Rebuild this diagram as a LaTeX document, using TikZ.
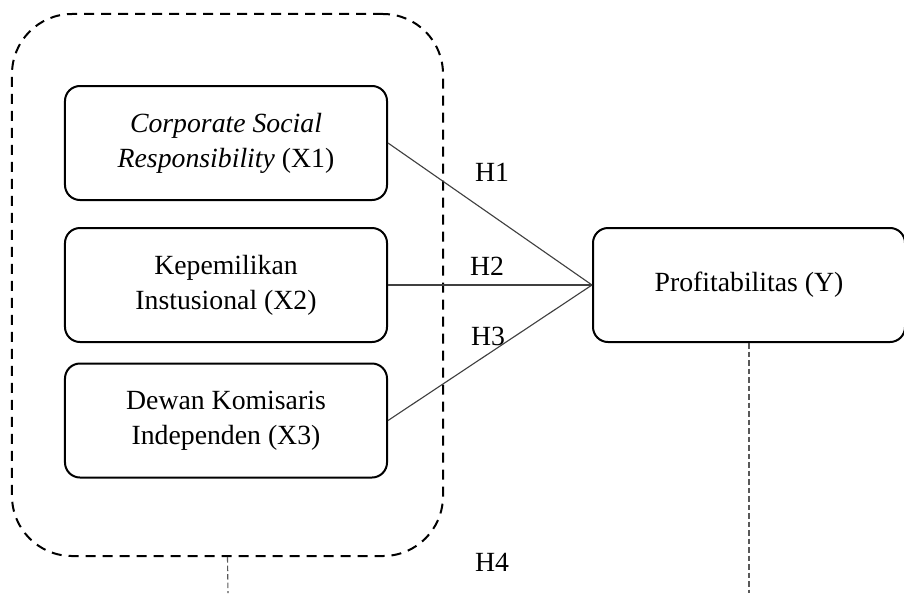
\documentclass[tikz,border=0pt]{standalone}
\usepackage{fontspec}
\setmainfont{Liberation Serif}
\usepackage{tikz}
\usetikzlibrary{shapes,arrows,positioning}

\begin{document}
\begin{tikzpicture}[x=0.4pt, y=-0.4pt,
  font=\fontsize{11.1}{14}\selectfont,
  varbox/.style={draw, line width=0.8pt, rounded corners=6pt, align=center,
    minimum width=128.8pt, minimum height=45.6pt, inner sep=0pt},
  link/.style={draw=black!75, line width=0.45pt},
  guide/.style={draw=black!65, line width=0.45pt, dash pattern=on 2.2pt off 1.2pt}]
\useasboundingbox (0,0) rectangle (904,593);
\node[draw, line width=0.8pt, dash pattern=on 4pt off 2.8pt, rounded corners=24pt,
  minimum width=172.4pt, minimum height=216.8pt] (grp) at (227.5,285) {};
\node[varbox] (x1) at (226,143) {\textit{Corporate Social}\\\textit{Responsibility} (X1)};
\node[varbox] (x2) at (226,285) {Kepemilikan\\Instusional (X2)};
\node[varbox] (x3) at (226,420.5) {Dewan Komisaris\\Independen (X3)};
\node[varbox, minimum width=124.8pt] (y) at (749,285) {Profitabilitas (Y)};
\draw[link] (x1.east) -- (y.west);
\draw[link] (x2.east) -- (y.west);
\draw[link] (x3.east) -- (y.west);
\node (h1) at (492,172) {H1};
\node (h2) at (487,266) {H2};
\node (h3) at (488,336) {H3};
\node (h4) at (492,562) {H4};
\coordinate (gend) at (228,593);
\coordinate (yend) at (749,593);
\draw[guide] (grp.south) -- (gend);
\draw[guide] (y.south) -- (yend);
\end{tikzpicture}
\end{document}
